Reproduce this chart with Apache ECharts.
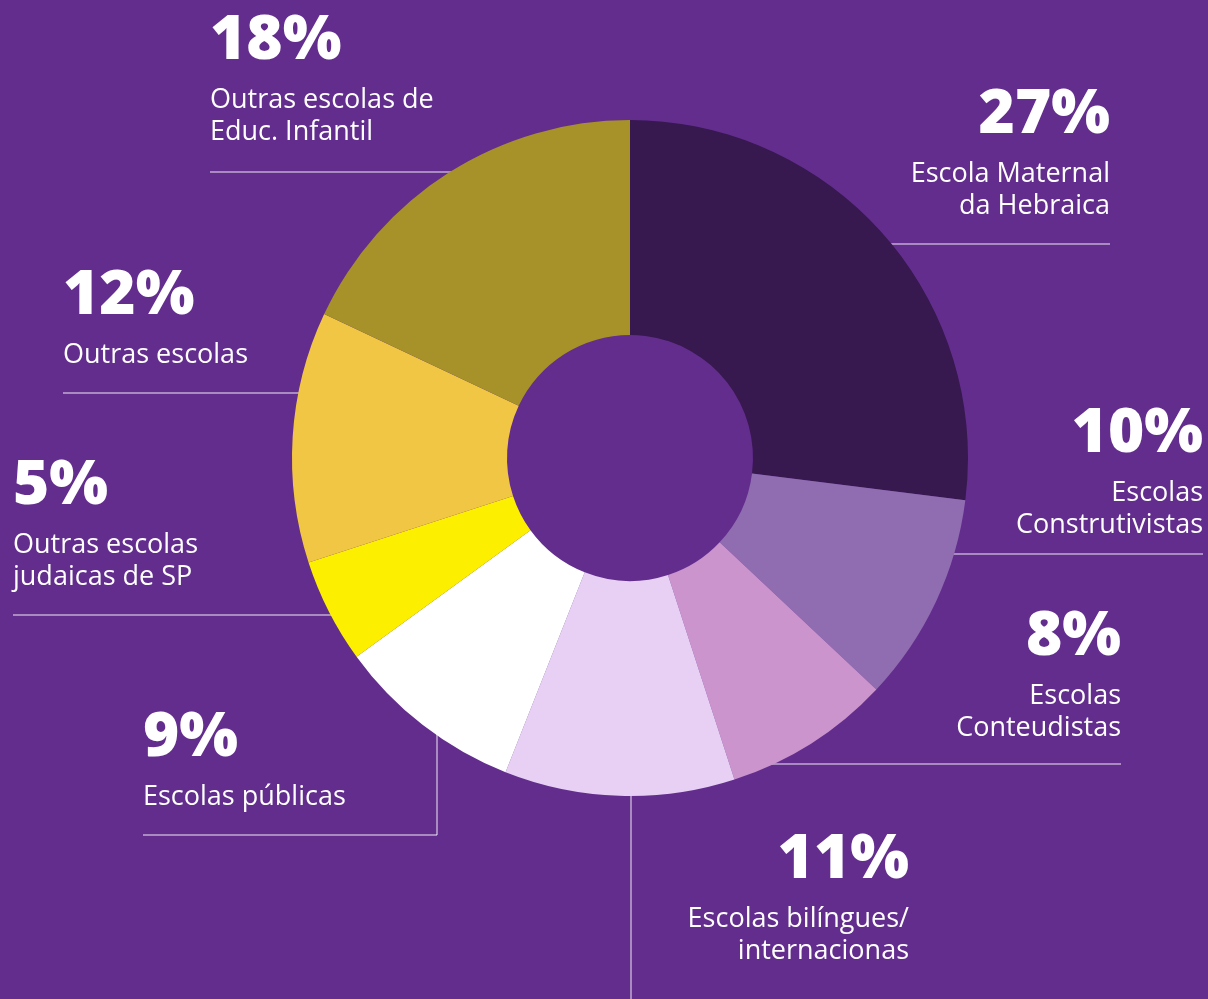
<!DOCTYPE html>
<html>
<head>
<meta charset="utf-8">
<script src="https://cdn.jsdelivr.net/npm/echarts@6/dist/echarts.min.js"></script>
<style>
  html, body { margin: 0; padding: 0; background: #632d8e; }
  #main { width: 1208px; height: 999px; }
</style>
</head>
<body>
<div id="main"></div>
<script>
// dados (sentido horário a partir do topo)
const categories = [
  'Escola Maternal\nda Hebraica',
  'Escolas\nConstrutivistas',
  'Escolas\nConteudistas',
  'Escolas bilíngues/\ninternacionas',
  'Escolas públicas',
  'Outras escolas\njudaicas de SP',
  'Outras escolas',
  'Outras escolas de\nEduc. Infantil'
];
const shares = [27, 10, 8, 11, 9, 5, 12, 18];
const sliceColors = ['#37184f', '#8f6db0', '#cb94cd', '#e8d0f5', '#ffffff', '#fcf000', '#f1c644', '#a69229'];

// posição dos rótulos: x âncora, y do centro do número, y da linha, alinhamento, tipo, x da dobra
const labelSpots = [
  [1110, 115, 244, 'right', 'h'],
  [1203, 434, 554, 'right', 'h'],
  [1121, 637, 764, 'right', 'h'],
  [909, 860, null, 'right', 'down', 631],
  [143, 738, 835, 'left', 'elbow', 437],
  [13, 486, 615, 'left', 'h'],
  [63, 296, 393, 'left', 'h'],
  [210, 41, 172, 'left', 'h']
];

const CX = 630, CY = 458, R_IN = 123, R_OUT = 338;

const chart = echarts.init(document.getElementById('main'));

function edgeX(y, side) {
  const dy = y - CY;
  const dx = Math.sqrt(Math.max(R_OUT * R_OUT - dy * dy, 0));
  return side === 'left' ? CX - dx + 2 : CX + dx - 2;
}

const option = {
  backgroundColor: '#632d8e',
  series: [{
    type: 'pie',
    center: [CX, CY],
    radius: [R_IN, R_OUT],
    startAngle: 90,
    clockwise: true,
    avoidLabelOverlap: false,
    silent: true,
    itemStyle: { borderWidth: 0 },
    label: {
      show: true,
      position: 'outside',
      color: '#fff',
      formatter: p => `{num|${p.value}%}\n` + p.name.split('\n').map(l => `{txt|${l}}`).join('\n'),
      rich: {
        num: { fontFamily: 'Open Sans', fontWeight: 800, fontSize: 62, lineHeight: 86, color: '#fff' },
        txt: { fontFamily: 'Open Sans', fontSize: 27, lineHeight: 32, color: '#fff' }
      }
    },
    labelLine: {
      show: true,
      length: 10,
      length2: 10,
      lineStyle: { color: 'rgba(255,255,255,0.9)', width: 1 }
    },
    labelLayout: function (params) {
      const [ax, numY, ruleY, align, kind, bendX] = labelSpots[params.dataIndex];
      let pts;
      if (kind === 'down') {
        pts = [[bendX, CY + R_OUT - 2], [bendX, 999], [bendX, 999]];
      } else if (kind === 'elbow') {
        const dx = bendX - CX;
        const ey = CY + Math.sqrt(R_OUT * R_OUT - dx * dx) - 4;
        pts = [[bendX, ey], [bendX, ruleY], [ax, ruleY]];
      } else {
        const side = align === 'right' ? 'right' : 'left';
        const ex = edgeX(ruleY, side);
        pts = [[ex, ruleY], [ex, ruleY], [ax, ruleY]];
      }
      return {
        x: ax,
        y: numY - 43,
        align: align,
        verticalAlign: 'top',
        labelLinePoints: pts
      };
    },
    data: categories.map((name, i) => ({
      name: name,
      value: shares[i],
      itemStyle: { color: sliceColors[i] }
    }))
  }]
};

chart.setOption(option);
</script>
</body>
</html>
